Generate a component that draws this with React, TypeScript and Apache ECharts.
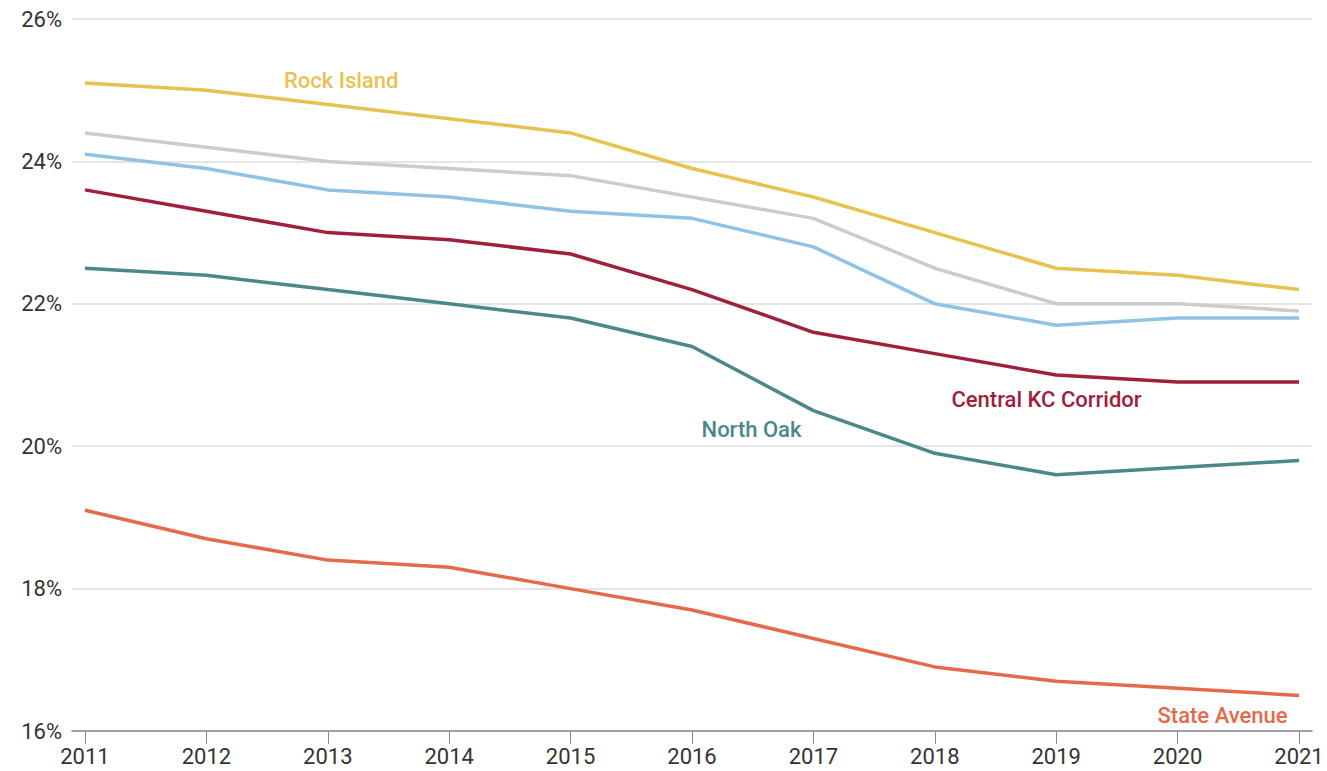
import React, { useEffect, useRef } from "react";
import * as echarts from "echarts";

// Years shown along the bottom axis
const years = [2011, 2012, 2013, 2014, 2015, 2016, 2017, 2018, 2019, 2020, 2021];

// Share (%) by corridor, one value per year
const rockIsland = [25.1, 25.0, 24.8, 24.6, 24.4, 23.9, 23.5, 23.0, 22.5, 22.4, 22.2];
const grayArea = [24.4, 24.2, 24.0, 23.9, 23.8, 23.5, 23.2, 22.5, 22.0, 22.0, 21.9];
const blueArea = [24.1, 23.9, 23.6, 23.5, 23.3, 23.2, 22.8, 22.0, 21.7, 21.8, 21.8];
const centralKC = [23.6, 23.3, 23.0, 22.9, 22.7, 22.2, 21.6, 21.3, 21.0, 20.9, 20.9];
const northOak = [22.5, 22.4, 22.2, 22.0, 21.8, 21.4, 20.5, 19.9, 19.6, 19.7, 19.8];
const stateAvenue = [19.1, 18.7, 18.4, 18.3, 18.0, 17.7, 17.3, 16.9, 16.7, 16.6, 16.5];

// Y axis ticks
const yTicks = [16, 18, 20, 22, 24, 26];

const FONT = "Roboto, 'Noto Sans', sans-serif";

const pairs = (vals: number[]) => years.map((y, i) => [y, vals[i]]);

function lineSeries(
  name: string,
  vals: number[],
  color: string,
  label?: { text: string; coord: [number, number] }
) {
  return {
    name,
    type: "line",
    data: pairs(vals),
    showSymbol: false,
    symbol: "none",
    lineStyle: { color, width: 3.5 },
    itemStyle: { color },
    z: 3,
    markPoint: label
      ? {
          symbol: "circle",
          symbolSize: 0,
          silent: true,
          data: [
            {
              coord: label.coord,
              label: {
                show: true,
                position: "inside",
                formatter: label.text,
                color,
                fontFamily: FONT,
                fontSize: 22,
                fontWeight: 500,
              },
            },
          ],
        }
      : undefined,
  };
}

export default function App() {
  const ref = useRef<HTMLDivElement>(null);

  useEffect(() => {
    document.body.style.margin = "0";
    if (!ref.current) return;
    const chart = echarts.init(ref.current, undefined, { renderer: "svg" });
    chart.setOption({
      animation: false,
      backgroundColor: "#ffffff",
      grid: { left: 72, right: 15, top: 19, bottom: 40, containLabel: false },
      xAxis: {
        type: "value",
        min: 2010.893,
        max: 2021.107,
        splitLine: { show: false },
        axisLine: { show: true, lineStyle: { color: "#8a8a8a", width: 1.5 } },
        axisTick: {
          show: true,
          customValues: years,
          length: 13,
          lineStyle: { color: "#8a8a8a", width: 1 },
        },
        axisLabel: {
          customValues: years,
          formatter: (v: number) => String(Math.round(v)),
          color: "#333333",
          fontFamily: FONT,
          fontSize: 22,
          margin: 14,
        },
      },
      yAxis: {
        type: "value",
        min: 16,
        max: 26,
        interval: 2,
        axisLine: { show: false },
        axisTick: { show: false },
        splitLine: { show: true, lineStyle: { color: "#dcdcdc", width: 1.5 } },
        axisLabel: {
          customValues: yTicks,
          formatter: "{value}%",
          color: "#333333",
          fontFamily: FONT,
          fontSize: 22,
          margin: 10,
        },
      },
      series: [
        lineSeries("Gray", grayArea, "#cccccc"),
        lineSeries("Blue", blueArea, "#8ec3e6"),
        lineSeries("Rock Island", rockIsland, "#e8c24f", {
          text: "Rock Island",
          coord: [2013.11, 25.13],
        }),
        lineSeries("Central KC Corridor", centralKC, "#a0203b", {
          text: "Central KC Corridor",
          coord: [2018.92, 20.65],
        }),
        lineSeries("North Oak", northOak, "#4b8887", {
          text: "North Oak",
          coord: [2016.49, 20.24],
        }),
        lineSeries("State Avenue", stateAvenue, "#e5694a", {
          text: "State Avenue",
          coord: [2020.37, 16.22],
        }),
      ],
    });
    return () => chart.dispose();
  }, []);

  return <div ref={ref} style={{ width: 1327, height: 771 }} />;
}
